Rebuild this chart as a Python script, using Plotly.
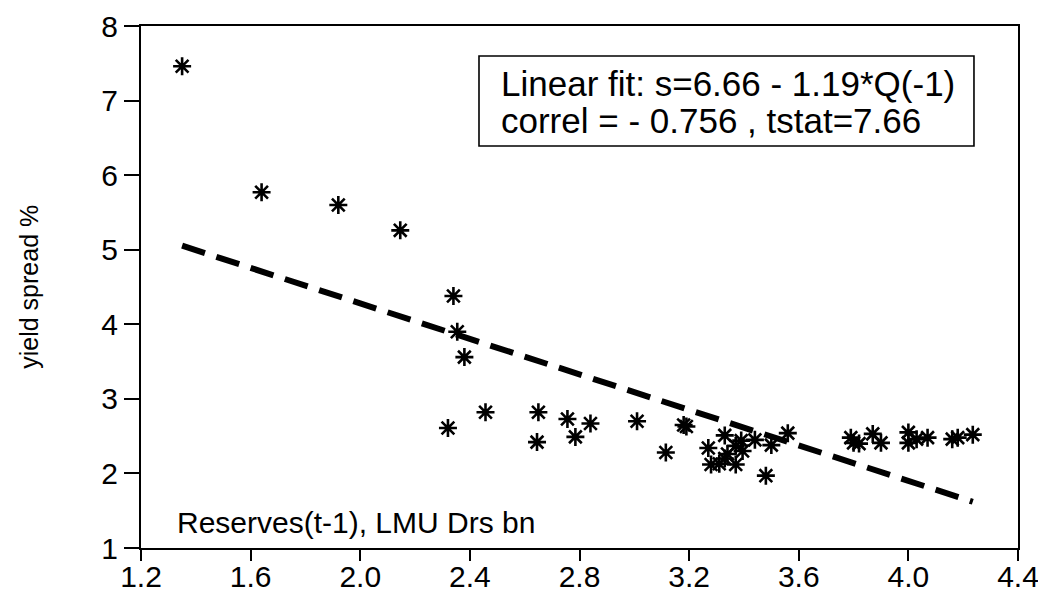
import plotly.graph_objects as go

# Reserves(t-1), LMU Drs bn
reserves = [1.35, 1.64, 1.92, 2.146, 2.34, 2.354, 2.38, 2.32, 2.457, 2.65, 2.645,
            2.756, 2.785, 2.84, 3.01, 3.115, 3.18, 3.19,
            3.27, 3.33, 3.39, 3.44, 3.50, 3.56, 3.395, 3.34, 3.28, 3.31, 3.37, 3.48,
            3.37, 3.33,
            3.79, 3.82, 3.80, 3.87, 3.90, 4.00, 4.00, 4.03, 4.07, 4.16, 4.18, 4.235]
# yield spread %
spread = [7.46, 5.77, 5.60, 5.26, 4.38, 3.90, 3.56, 2.61, 2.82, 2.82, 2.42,
          2.73, 2.49, 2.67, 2.70, 2.28, 2.65, 2.63,
          2.34, 2.51, 2.44, 2.45, 2.38, 2.54, 2.30, 2.26, 2.12, 2.13, 2.12, 1.97,
          2.37, 2.20,
          2.48, 2.40, 2.41, 2.53, 2.41, 2.55, 2.41, 2.46, 2.48, 2.46, 2.48, 2.52]

fit_intercept = 6.66
fit_slope = -1.19

x_ticks = [1.2, 1.6, 2.0, 2.4, 2.8, 3.2, 3.6, 4.0, 4.4]
x_tick_labels = ["1.2", "1.6", "2.0", "2.4", "2.8", "3.2", "3.6", "4.0", "4.4"]
y_ticks = [1, 2, 3, 4, 5, 6, 7, 8]

fit_x = sorted(reserves)
fit_y = [fit_intercept + fit_slope * v for v in fit_x]

FONT = "Liberation Sans, Arial, sans-serif"

fig = go.Figure()
fig.add_trace(go.Scatter(
    x=fit_x, y=fit_y, mode="lines",
    line=dict(color="black", width=6, dash="24px,12px"),
    hoverinfo="skip", showlegend=False))
fig.add_trace(go.Scatter(
    x=reserves, y=spread, mode="markers",
    marker=dict(symbol="asterisk-open", size=15, color="black",
                line=dict(color="black", width=2.6)),
    showlegend=False))

# the page body adds an 8px offset, so the figure is 8px smaller and margins shifted
fig.update_layout(
    template="none",
    width=1038, height=586,
    margin=dict(l=133, r=28, t=18, b=46, autoexpand=False),
    paper_bgcolor="white", plot_bgcolor="white",
    font=dict(family=FONT, color="black"),
    xaxis=dict(range=[1.2, 4.4], tickmode="array", tickvals=x_ticks,
               ticktext=x_tick_labels, ticks="outside", ticklen=11, tickwidth=1.6,
               tickcolor="black", showline=True, linecolor="black", linewidth=2,
               mirror=True, showgrid=False, zeroline=False, automargin=False,
               ticklabelstandoff=-10,
               tickfont=dict(size=30, family=FONT)),
    yaxis=dict(range=[1, 8], tickmode="array", tickvals=y_ticks,
               ticks="outside", ticklen=15, tickwidth=1.6, tickcolor="black",
               showline=True, linecolor="black", linewidth=2, mirror=True,
               showgrid=False, zeroline=False, automargin=False,
               tickfont=dict(size=30, family=FONT)),
)

# fit statistics box
fig.add_shape(type="rect", xref="paper", yref="paper",
              x0=0.3854, x1=0.9498, y0=0.7701, y1=0.9425,
              line=dict(color="black", width=1.6), fillcolor="white", layer="above")
fig.add_annotation(
    x=0.4082, y=0.8908, xref="paper", yref="paper", xanchor="left", yanchor="middle",
    text="Linear fit: s=6.66 - 1.19*Q(-1)", showarrow=False,
    font=dict(size=35, family=FONT, color="black"))
fig.add_annotation(
    x=0.4082, y=0.8199, xref="paper", yref="paper", xanchor="left", yanchor="middle",
    text="correl = - 0.756 , tstat=7.66", showarrow=False,
    font=dict(size=35, family=FONT, color="black"))

fig.add_annotation(
    x=0.0388, y=0.0498, xref="paper", yref="paper", xanchor="left", yanchor="middle",
    text="Reserves(t-1), LMU Drs bn", showarrow=False,
    font=dict(size=30, family=FONT, color="black"))

fig.add_annotation(
    x=-0.128, y=0.5, xref="paper", yref="paper", xanchor="center", yanchor="middle",
    text="yield spread %", textangle=-90, showarrow=False,
    font=dict(size=25, family=FONT, color="black"))

fig.write_html("out.html")
